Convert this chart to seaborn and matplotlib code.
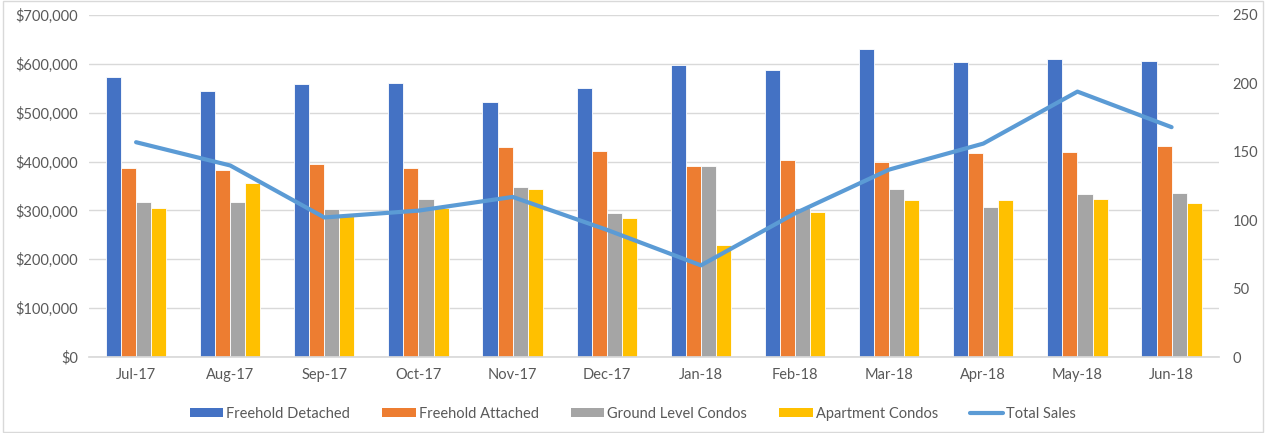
import matplotlib
matplotlib.use("Agg")
import matplotlib.pyplot as plt
from matplotlib.lines import Line2D
from matplotlib.patches import Patch, Rectangle
from matplotlib.ticker import FuncFormatter, MultipleLocator
import seaborn as sns
import pandas as pd

# ------------------------------------------------------------
# data
# ------------------------------------------------------------
months = ["Jul-17", "Aug-17", "Sep-17", "Oct-17", "Nov-17", "Dec-17",
          "Jan-18", "Feb-18", "Mar-18", "Apr-18", "May-18", "Jun-18"]

freehold_detached = [574000, 544000, 559000, 561000, 522000, 550000,
                     598000, 587000, 630000, 603000, 610000, 606000]
freehold_attached = [386000, 383000, 396000, 386000, 430000, 422000,
                     391000, 404000, 399000, 417000, 420000, 432000]
ground_condos = [318000, 317000, 303000, 323000, 347000, 294000,
                 390000, 304000, 344000, 306000, 334000, 336000]
apartment_condos = [304000, 356000, 288000, 305000, 344000, 284000,
                    230000, 297000, 322000, 321000, 323000, 316000]
total_sales = [157, 140, 102, 107, 117, 93, 67, 105, 137, 156, 194, 168]

series_names = ["Freehold Detached", "Freehold Attached",
                "Ground Level Condos", "Apartment Condos"]
bar_colors = ["#4472C4", "#ED7D31", "#A5A5A5", "#FFC000"]
line_color = "#5B9BD5"
text_color = "#595959"
grid_color = "#D9D9D9"

# long table for seaborn
df = pd.DataFrame({
    "month": months * 4,
    "price": freehold_detached + freehold_attached + ground_condos + apartment_condos,
    "type": sum([[n] * len(months) for n in series_names], []),
})
sales_df = pd.DataFrame({"month": months, "sales": total_sales})

sns.set_theme(style="white")
plt.rcParams["font.family"] = ["Lato", "DejaVu Sans"]

fig, ax = plt.subplots(figsize=(12.66, 4.33), dpi=100)
fig.subplots_adjust(left=0.0703, right=0.9626, top=0.9654, bottom=0.1755)

sns.barplot(data=df, x="month", y="price", hue="type", order=months,
            hue_order=series_names, palette=bar_colors, width=0.64,
            gap=0, linewidth=0.6, edgecolor="white", saturation=1,
            legend=False, ax=ax)

ax.set_ylim(0, 700000)
ax.yaxis.set_major_locator(MultipleLocator(100000))
ax.yaxis.set_major_formatter(FuncFormatter(lambda v, _: f"${v:,.0f}"))
ax.grid(axis="y", color=grid_color, linewidth=1)
ax.set_axisbelow(True)
ax.set_xlabel("")
ax.set_ylabel("")
for s in ["top", "right", "left"]:
    ax.spines[s].set_visible(False)
ax.spines["bottom"].set_color(grid_color)
ax.tick_params(axis="both", colors=text_color, labelsize=10.5, length=0, pad=8)

# secondary axis: total sales line
ax2 = ax.twinx()
sns.lineplot(data=sales_df, x="month", y="sales", sort=False,
             color=line_color, linewidth=3, ax=ax2)
ax2.set_ylim(0, 250)
ax2.yaxis.set_major_locator(MultipleLocator(50))
ax2.set_ylabel("")
ax2.set_xlabel("")
for s in ["top", "right", "left", "bottom"]:
    ax2.spines[s].set_visible(False)
ax2.tick_params(axis="y", colors=text_color, labelsize=10.5, length=0, pad=10)
ax.set_xlim(-0.5, len(months) - 0.5)

# legend along the bottom
handles = [Patch(facecolor=c, edgecolor="none") for c in bar_colors]
handles.append(Line2D([0], [0], color=line_color, linewidth=3))
labels = series_names + ["Total Sales"]
fig.legend(handles, labels, loc="center", bbox_to_anchor=(0.5, 0.045),
           ncol=5, frameon=False, fontsize=10.5, labelcolor=text_color,
           handlelength=2.3, handleheight=0.6, columnspacing=2.2,
           handletextpad=0.2)

# light chart border
fig.patches.append(Rectangle((0.002, 0.002), 0.996, 0.996, transform=fig.transFigure,
                             fill=False, edgecolor=grid_color, linewidth=1))

fig.savefig("out.png", dpi=100)
